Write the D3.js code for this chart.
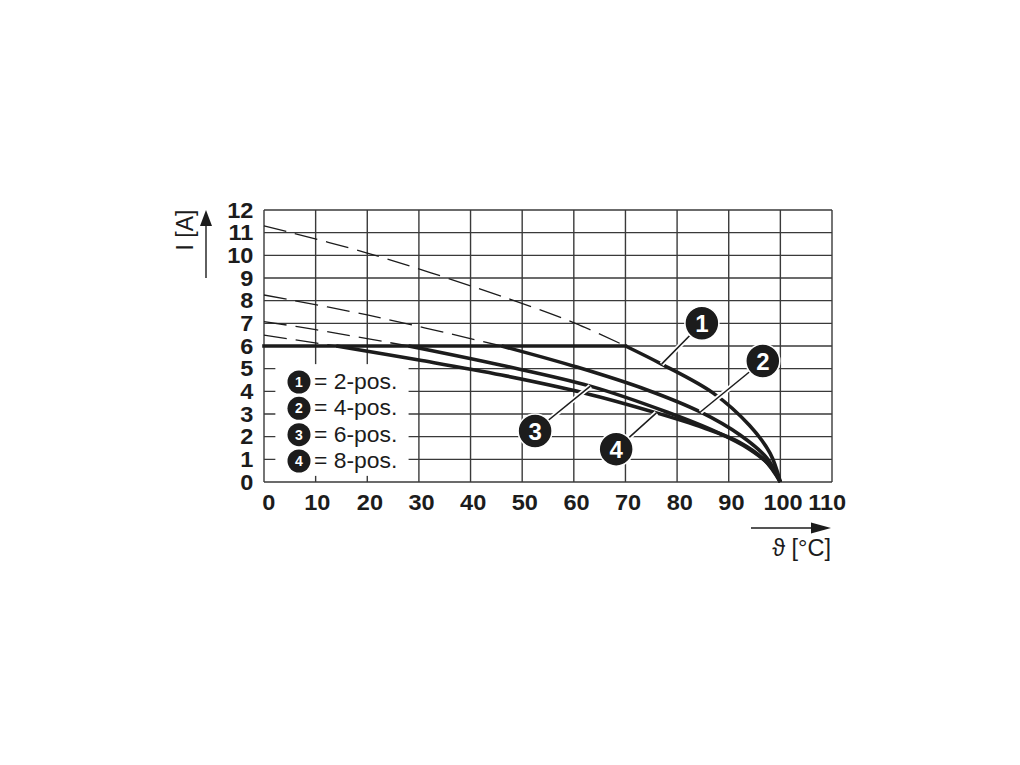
<!DOCTYPE html>
<html><head><meta charset="utf-8">
<script src="https://cdnjs.cloudflare.com/ajax/libs/d3/7.8.5/d3.min.js"></script>
<style>html,body{margin:0;padding:0;background:#fff}svg{display:block}</style>
</head><body><div id="c"></div>
<script>
const xTicks = d3.range(0,111,10);
const yTicks = d3.range(0,13,1);
const curve1 = [[70,6],[77,5.2],[87,3.92],[94,2.5],[98,1.27],[100,0]];
const curve2 = [[46,6],[60.6,5.07],[74.2,4.06],[84.5,3.09],[92.2,2.07],[97.4,1.05],[100,0]];
const curve3 = [[28,6],[46,5.15],[63.2,4.23],[78,3.09],[87.7,2.2],[94,1.45],[98,0.72],[100,0]];
const curve4 = [[14,6],[30,5.38],[46,4.72],[62,3.93],[76,3.05],[85,2.4],[92,1.76],[97,0.95],[100,0]];
const dash1 = [[0,11.3],[20,10.1],[47.6,8.07],[60.3,7.0],[70,6]];
const dash2 = [[0,8.25],[20,7.37],[46,6]];
const dash3 = [[0,7.08],[10,6.72],[28,6]];
const dash4 = [[0,6.48],[14,6]];
const flat = [[0,6],[70,6]];
const legendLabels = ["2-pos.","4-pos.","6-pos.","8-pos."];
const callouts = [
  {n:"1",from:[84.8,7.0],to:[77,5.2]},
  {n:"2",from:[96.6,5.34],to:[84.5,3.09]},
  {n:"3",from:[52.5,2.25],to:[63.2,4.23]},
  {n:"4",from:[68.2,1.45],to:[76,3.05]}
];
const W=1020,H=765;
const x=d3.scaleLinear().domain([0,110]).range([264,832]);
const y=d3.scaleLinear().domain([0,12]).range([482,210]);
const svg=d3.select("#c").append("svg").attr("width",W).attr("height",H);
svg.append("rect").attr("width",W).attr("height",H).attr("fill","#fff");
const INK="#1c1c1c",GRID="#3a3a3a";
const grid=svg.append("g").attr("fill","none").attr("stroke",GRID).attr("stroke-width",1.4);
grid.selectAll("line.v").data(xTicks).join("line").attr("class","v").attr("x1",d=>x(d)).attr("x2",d=>x(d)).attr("y1",y(0)).attr("y2",y(12));
grid.selectAll("line.h").data(yTicks).join("line").attr("class","h").attr("x1",x(0)).attr("x2",x(110)).attr("y1",d=>y(d)).attr("y2",d=>y(d));

const xAxis=svg.append("g").attr("transform",`translate(0,${y(0)})`).call(d3.axisBottom(x).tickValues(xTicks).tickSize(0).tickPadding(12));
const yAxis=svg.append("g").attr("transform",`translate(${x(0)},0)`).call(d3.axisLeft(y).tickValues(yTicks).tickSize(0).tickPadding(10));
[xAxis,yAxis].forEach(a=>{a.select(".domain").remove();
 a.selectAll("text").attr("font-family","'Liberation Sans',Arial,sans-serif").attr("font-weight","700").attr("font-size",22).attr("fill",INK).attr("transform","scale(1.07,1)");});
xAxis.selectAll("text").attr("dx",d=>d===0?4:d===110?-5:d===10?1:2);

const line=d3.line().x(d=>x(d[0])).y(d=>y(d[1])).curve(d3.curveCatmullRom.alpha(0.5));
const dashes=svg.append("g").attr("fill","none").attr("stroke",INK).attr("stroke-width",1.3).attr("stroke-dasharray","23 9");
[dash1,dash2,dash3,dash4].forEach(d=>dashes.append("path").attr("d",line(d)));

svg.append("rect").attr("x",x(2.2)).attr("y",y(5.2)).attr("width",x(28)-x(2.2)).attr("height",y(0.27)-y(5.2)).attr("fill","#fff");

const solids=svg.append("g").attr("fill","none").attr("stroke",INK).attr("stroke-width",3.6);
solids.append("path").attr("d",line(flat)).attr("stroke-linecap","square");
[curve4,curve3,curve2,curve1].forEach(d=>solids.append("path").attr("d",line(d)));

const leaders=svg.append("g").selectAll("g").data(callouts).join("g");
leaders.append("line").attr("stroke","#fff").attr("stroke-width",5);
leaders.append("line").attr("stroke",INK).attr("stroke-width",1.5);
leaders.selectAll("line").attr("x1",d=>x(d.from[0])).attr("y1",d=>y(d.from[1])).attr("x2",d=>x(d.to[0])).attr("y2",d=>y(d.to[1]));
leaders.append("circle").attr("cx",d=>x(d.from[0])).attr("cy",d=>y(d.from[1])).attr("r",17).attr("fill",INK).attr("stroke","#fff").attr("stroke-width",1.5);
leaders.append("text").attr("x",d=>x(d.from[0])).attr("y",d=>y(d.from[1])).attr("dy","0.36em").attr("text-anchor","middle")
 .attr("font-family","'Liberation Sans',Arial,sans-serif").attr("font-weight","700").attr("font-size",24).attr("fill","#fff").text(d=>d.n);

const legY=d3.scalePoint().domain(legendLabels).range([382,461]);
const leg=svg.append("g").selectAll("g").data(legendLabels).join("g").attr("transform",d=>`translate(0,${legY(d)})`);
leg.append("circle").attr("cx",299).attr("cy",0).attr("r",11.5).attr("fill",INK);
leg.append("text").attr("x",299).attr("dy","0.36em").attr("text-anchor","middle").attr("font-family","'Liberation Sans',Arial,sans-serif").attr("font-weight","700").attr("font-size",14).attr("fill","#fff").text((d,i)=>i+1);
leg.append("text").attr("x",314).attr("dy","0.3em").attr("font-family","'Liberation Sans',Arial,sans-serif").attr("font-size",22.9).attr("fill",INK).text(d=>"= "+d);

const ax=svg.append("g");
ax.append("line").attr("x1",206).attr("x2",206).attr("y1",278).attr("y2",224).attr("stroke",INK).attr("stroke-width",1.4);
ax.append("path").attr("d","M206,210 L212,226 L200,226 Z").attr("fill",INK);
ax.append("line").attr("x1",751).attr("x2",815).attr("y1",528).attr("y2",528).attr("stroke",INK).attr("stroke-width",1.4);
ax.append("path").attr("d","M831,528 L811,522.5 L811,533.5 Z").attr("fill",INK);
ax.append("text").attr("transform","translate(193,230) rotate(-90)").attr("text-anchor","middle").attr("font-family","'Liberation Sans',Arial,sans-serif").attr("font-size",23).attr("fill",INK).text("I [A]");
ax.append("text").attr("x",831).attr("y",556).attr("text-anchor","end").attr("font-family","'Liberation Sans','DejaVu Sans',sans-serif").attr("font-size",23.5).attr("fill",INK).text("ϑ [°C]");
</script></body></html>
